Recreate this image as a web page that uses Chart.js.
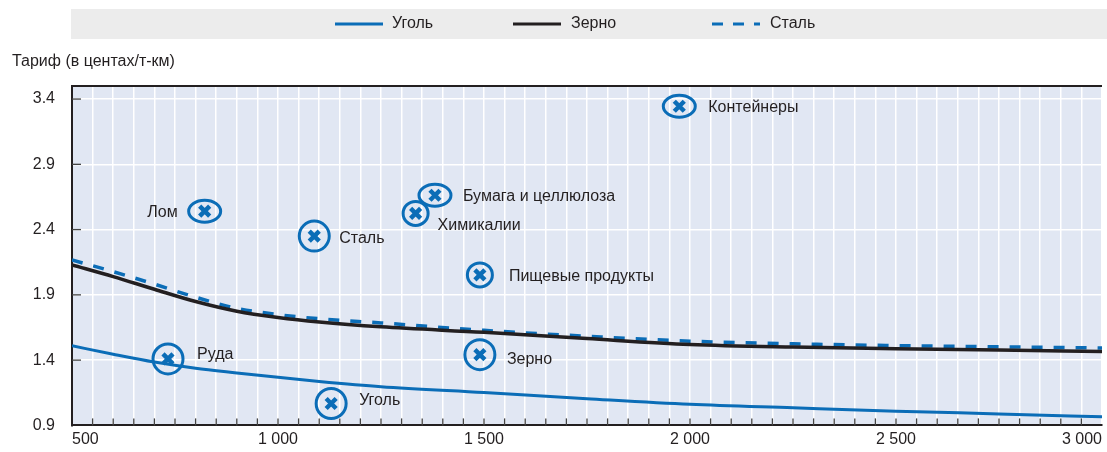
<!DOCTYPE html>
<html>
<head>
<meta charset="utf-8">
<script src="https://cdn.jsdelivr.net/npm/chart.js@4/dist/chart.umd.min.js"></script>
<style>
html,body{margin:0;padding:0;background:#fff}
</style>
</head>
<body>
<canvas id="c" width="1107" height="452"></canvas>
<script>
// tariff curves, cents per t-km, by haul distance (km)
const distances = [500,600,700,800,900,1000,1100,1250,1500,1750,2000,2250,2500,2750,3000];
const coalRate  = [1.51,1.445,1.385,1.338,1.302,1.268,1.237,1.197,1.152,1.105,1.062,1.035,1.009,0.988,0.966];
const grainRate = [2.13,2.04,1.943,1.849,1.775,1.727,1.692,1.655,1.613,1.565,1.52,1.50,1.488,1.477,1.467];
const steelRate = [2.167,2.078,1.982,1.882,1.797,1.749,1.717,1.685,1.628,1.583,1.545,1.525,1.511,1.502,1.493];
const seriesNames = ["Уголь","Зерно","Сталь"];

// individual cargo points
const cargoNames = ["Лом","Сталь","Бумага и целлюлоза","Химикалии","Пищевые продукты","Контейнеры","Руда","Зерно","Уголь"];
const cargoDistance = [822,1088,1381,1334,1490,1974,733,1490,1129];
const cargoRate = [2.541,2.35,2.663,2.524,2.053,3.345,1.409,1.442,1.068];

const xTicks = [500,1000,1500,2000,2500,3000];
const yTicks = [0.9,1.4,1.9,2.4,2.9,3.4];

// look of the markers / where their labels go
const markerShape = ["wide","round","wide","small","small","wide","round","round","round"];
const labelOffset = [[-27,1,"right"],[25,2,"left"],[28,1,"left"],[22,12,"left"],[29,2,"left"],[29,1,"left"],[29,-4,"left"],[27,5,"left"],[28,-3,"left"]];

const blue = "#0b6db7";
const ink = "#231f20";
const font = "Liberation Sans, Arial, sans-serif";

let fmt = (v)=>String(v).replace(/\B(?=(\d{3})+(?!\d))/g," ");

let decor = {
    id:"decor",
    beforeDraw(chart){
        let c = chart.ctx, a = chart.chartArea;
        c.save();
        c.fillStyle = "#ececec";
        c.fillRect(71,9,1036,30);
        c.fillStyle = "#e1e7f3";
        c.fillRect(a.left,a.top,a.right-a.left,a.bottom-a.top);
        // y title
        c.fillStyle = ink;
        c.font = "16px " + font;
        c.textBaseline = "middle";
        c.textAlign = "left";
        c.fillText("Тариф (в центах/т-км)",12,62);
        // legend
        let items = [[335,392,blue,[]],[513,571,ink,[]],[712,770,blue,[11,10]]];
        items.forEach((it,i)=>{
            c.strokeStyle = it[2];
            c.lineWidth = 3;
            c.setLineDash(it[3]);
            c.beginPath();
            c.moveTo(it[0],24);
            c.lineTo(it[0]+48,24);
            c.stroke();
            c.setLineDash([]);
            c.fillText(seriesNames[i],it[1],24);
        });
        c.restore();
    },
    beforeDatasetsDraw(chart){
        let c = chart.ctx, a = chart.chartArea;
        let xs = chart.scales.x, ys = chart.scales.y;
        c.save();
        c.strokeStyle = "#444";
        c.lineWidth = 1.3;
        for (let v = 550; v < 3000; v += 50) {
            let px = xs.getPixelForValue(v);
            c.beginPath();
            c.moveTo(px,a.bottom);
            c.lineTo(px,a.bottom-7);
            c.stroke();
        }
        yTicks.slice(1).forEach(v=>{
            let py = ys.getPixelForValue(v);
            c.beginPath();
            c.moveTo(a.left,py);
            c.lineTo(a.left+9,py);
            c.stroke();
        });
        c.strokeStyle = ink;
        c.lineWidth = 2;
        c.beginPath();
        c.moveTo(a.left-1,a.top);
        c.lineTo(a.right,a.top);
        c.stroke();
        c.restore();
    },
    afterDatasetsDraw(chart){
        let c = chart.ctx;
        let meta = chart.getDatasetMeta(3);
        c.save();
        meta.data.forEach((pt,i)=>{
            let x = pt.x, y = pt.y;
            let rx = 15, ry = 15;
            if (markerShape[i] == "wide") { rx = 16; ry = 11; }
            if (markerShape[i] == "small") { rx = 12.5; ry = 12; }
            c.strokeStyle = blue;
            c.lineWidth = 3;
            c.beginPath();
            c.ellipse(x,y,rx,ry,0,0,Math.PI*2);
            c.stroke();
            c.lineWidth = 4.5;
            let s = 5;
            c.beginPath();
            c.moveTo(x-s,y-s); c.lineTo(x+s,y+s);
            c.moveTo(x+s,y-s); c.lineTo(x-s,y+s);
            c.stroke();
            let lo = labelOffset[i];
            c.fillStyle = ink;
            c.font = "16px " + font;
            c.textBaseline = "middle";
            c.textAlign = lo[2];
            c.fillText(cargoNames[i],x+lo[0],y+lo[1]);
        });
        c.restore();
    }
};

let line = (vals,color,dash,w)=>({
    data:distances.map((d,i)=>({x:d,y:vals[i]})),
    showLine:true,
    borderColor:color,
    borderWidth:w,
    borderDash:dash,
    pointRadius:0,
    cubicInterpolationMode:"monotone"
});

let chart = new Chart(document.getElementById("c"),{
    type:"scatter",
    plugins:[decor],
    data:{
        datasets:[
            Object.assign(line(coalRate,blue,[],3),{label:seriesNames[0]}),
            Object.assign(line(grainRate,ink,[],3.5),{label:seriesNames[1]}),
            Object.assign(line(steelRate,blue,[11,11],3.5),{label:seriesNames[2]}),
            {
                label:"cargo",
                data:cargoDistance.map((d,i)=>({x:d,y:cargoRate[i]})),
                pointRadius:0
            }
        ]
    },
    options:{
        responsive:false,
        animation:false,
        devicePixelRatio:1,
        layout:{padding:{top:86,right:2,left:0,bottom:0}},
        plugins:{legend:{display:false},tooltip:{enabled:false}},
        scales:{
            x:{
                type:"linear",
                min:500,
                max:3000,
                afterFit:(s)=>{s.height = 26;},
                ticks:{
                    stepSize:50,
                    autoSkip:false,
                    maxRotation:0,
                    align:"inner",
                    padding:5,
                    color:ink,
                    font:{family:font,size:16},
                    callback:(v)=>xTicks.includes(v) ? fmt(v) : ""
                },
                grid:{color:"#ffffff",lineWidth:1.5,drawTicks:false},
                border:{color:ink,width:2}
            },
            y:{
                min:0.9,
                max:3.5,
                afterFit:(s)=>{s.width = 72;},
                afterBuildTicks:(s)=>{s.ticks = yTicks.map(v=>({value:v}));},
                ticks:{
                    padding:17,
                    color:ink,
                    font:{family:font,size:16},
                    callback:(v)=>v.toFixed(1)
                },
                grid:{color:"#ffffff",lineWidth:1.5,drawTicks:false},
                border:{color:ink,width:2}
            }
        }
    }
});
</script>
</body>
</html>
